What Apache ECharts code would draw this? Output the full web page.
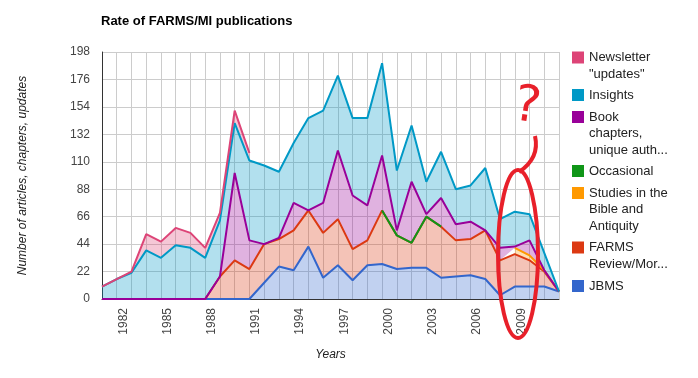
<!DOCTYPE html>
<html lang="en">
<head>
  <meta charset="UTF-8">
  <title>Rate of FARMS/MI publications</title>
  <script src="https://cdn.jsdelivr.net/npm/echarts@6/dist/echarts.min.js"></script>
  <style>body{margin:0;background:#fff}</style>
</head>
<body>
  <div id="main" style="width:698px;height:378px"></div>
  <script>
    var ff = 'Liberation Sans, Arial, sans-serif'

    var years = ['1981', '1982', '1983', '1984', '1985', '1986', '1987', '1988', '1989', '1990',
                 '1991', '1992', '1993', '1994', '1995', '1996', '1997', '1998', '1999', '2000',
                 '2001', '2002', '2003', '2004', '2005', '2006', '2007', '2008', '2009', '2010',
                 '2011', '2012']

    // stacked bottom to top
    var jbms = [0, 0, 0, 0, 0, 0, 0, 0, 0, 0, 0, 13, 26, 23, 42, 17, 27, 15, 27, 28,
                24, 25, 25, 17, 18, 19, 16, 3, 10, 10, 10, 6]
    var farmsReview = [0, 0, 0, 0, 0, 0, 0, 0, 18, 31, 24, 31, 22, 32, 29, 36, 37, 25, 20, 43,
                       27, 20, 41, 41, 29, 29, 39, 28, 26, 21, 12, 0]
    var studies = [null, null, null, null, null, null, null, null, null, null, null, null, null, null,
                   null, null, null, null, null, null, null, null, null, null, null, null, null, null,
                   5, 4, 1, 0]
    var occasional = [null, null, null, null, null, null, null, null, null, null, null, null, null,
                      null, null, null, null, null, null, 0, 0, 0, 0, 0, null, null, null, null,
                      null, null, null, null]
    var bookChapters = [0, 0, 0, 0, 0, 0, 0, 0, 0, 70, 23, 0, 1, 22, 0, 24, 55, 43, 28, 44,
                        4, 49, 2, 23, 13, 14, 0, 10, 1, 12, 0, 0]
    var insights = [10, 16, 21, 39, 33, 43, 41, 33, 45, 40, 64, 63, 53, 48, 74, 74, 60, 62, 70, 74,
                    48, 45, 26, 37, 28, 29, 50, 23, 28, 21, 14, 0]
    var newsletter = [0, 0, 1, 13, 13, 14, 12, 8, 6, 10, 6, null, null, null, null, null, null, null,
                      null, null, null, null, null, null, null, null, null, null, null, null, null, null]

    var seriesNames = ['JBMS', 'FARMS Review/Mormon Studies Review', 'Studies in the Bible and Antiquity',
                       'Occasional', 'Book chapters, unique authors', 'Insights', 'Newsletter "updates"']
    var seriesColors = ['#3366cc', '#dc3912', '#ff9900', '#109618', '#990099', '#0099c6', '#dd4477']
    var seriesData = [jbms, farmsReview, studies, occasional, bookChapters, insights, newsletter]

    // legend, top to bottom, wrapped like the original
    var legendLabels = ['JBMS', 'FARMS\nReview/Mor...', 'Studies in the\nBible and\nAntiquity',
                        'Occasional', 'Book\nchapters,\nunique auth...', 'Insights', 'Newsletter\n"updates"']
    var legendRowY = [286, 247.5, 193, 171, 117, 95, 57.5]
    var lineH = 16.5

    var series = seriesNames.map(function (name, i) {
      return {
        name: name,
        type: 'line',
        stack: 'total',
        data: seriesData[i],
        color: seriesColors[i],
        showSymbol: false,
        symbol: 'none',
        lineStyle: { width: 2 },
        areaStyle: { opacity: 0.3 },
        emphasis: { disabled: true }
      }
    })

    // legend text is centred on its icon, so blank lines in front push the
    // first real line level with the icon
    var legends = seriesNames.map(function (name, i) {
      var n = legendLabels[i].split('\n').length
      var blank = new Array(n).join('\n')
      return {
        data: [name],
        left: 572,
        top: legendRowY[i] - (2 * n - 1) * lineH / 2,
        padding: 0,
        icon: 'rect',
        itemWidth: 12,
        itemHeight: 12,
        selectedMode: false,
        formatter: function () { return blank + legendLabels[i] },
        textStyle: { fontFamily: ff, fontSize: 13, color: '#222', lineHeight: lineH }
      }
    })

    var myChart = echarts.init(document.getElementById('main'))

    var options = {
      animation: false,
      title: {
        text: 'Rate of FARMS/MI publications',
        left: 101,
        top: 15,
        padding: 0,
        textStyle: { fontFamily: ff, fontSize: 13, fontWeight: 'bold', color: '#000' }
      },
      legend: legends,
      grid: { left: 102, right: 139, top: 52, bottom: 79 },
      xAxis: {
        type: 'category',
        data: years,
        boundaryGap: false,
        axisLine: { lineStyle: { color: '#333' } },
        axisTick: { show: false },
        axisLabel: {
          rotate: 90,
          interval: function (i) { return i % 3 === 1 && i < 30 },
          // the empty first line nudges the rotated year a little right of its tick
          formatter: function (v) { return '\n' + v },
          lineHeight: 13,
          margin: 9,
          color: '#444',
          fontSize: 12,
          fontFamily: ff
        },
        splitLine: { show: true, interval: 0, lineStyle: { color: '#ccc' } },
        name: 'Years',
        nameLocation: 'middle',
        nameGap: 50,
        nameTextStyle: { fontFamily: ff, fontStyle: 'italic', fontSize: 12, color: '#222' }
      },
      yAxis: {
        type: 'value',
        min: 0,
        max: 198,
        interval: 22,
        axisLine: { show: true, lineStyle: { color: '#333' } },
        axisTick: { show: false },
        axisLabel: { color: '#444', fontSize: 12, margin: 12, fontFamily: ff },
        splitLine: { lineStyle: { color: '#ccc' } },
        name: 'Number of articles, chapters, updates',
        nameLocation: 'middle',
        nameGap: 73,
        nameTextStyle: { fontFamily: ff, fontStyle: 'italic', fontSize: 12, color: '#222' }
      },
      series: series,
      // the hand-drawn red "?" note around 2009
      graphic: [
        {
          type: 'ellipse',
          shape: { cx: 518, cy: 254, rx: 20, ry: 84 },
          style: { fill: 'none', stroke: '#e8202a', lineWidth: 4 },
          z: 100
        },
        {
          type: 'text',
          x: 527, y: 108,
          style: {
            text: '?', fill: '#e8202a', fontSize: 50, fontFamily: 'DejaVu Sans',
            align: 'center', verticalAlign: 'middle'
          },
          rotation: -0.15,
          z: 100
        },
        {
          type: 'bezierCurve',
          shape: { x1: 535, y1: 136, cpx1: 540, cpy1: 158, x2: 519, y2: 172 },
          style: { fill: 'none', stroke: '#e8202a', lineWidth: 4 },
          z: 100
        }
      ]
    }

    myChart.setOption(options)
  </script>
</body>
</html>
